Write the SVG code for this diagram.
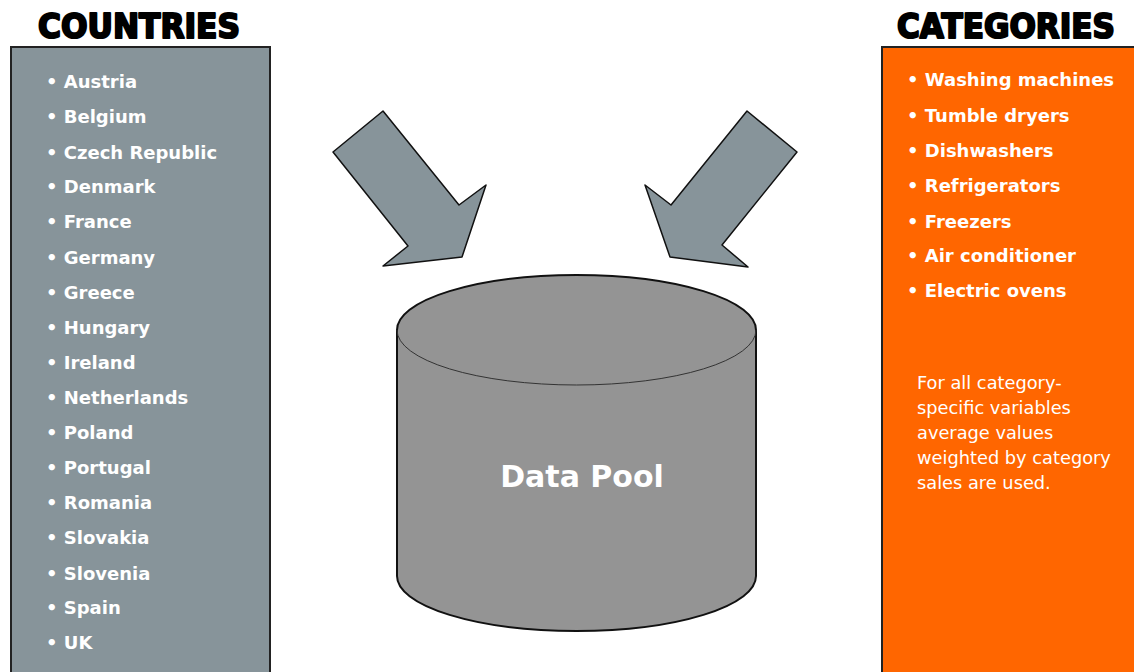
<svg xmlns="http://www.w3.org/2000/svg" width="1134" height="672" viewBox="0 0 1134 672">
<style>
.title{font-family:"DejaVu Sans",sans-serif;font-weight:bold;font-size:34px;fill:#000;stroke:#000;stroke-width:2.2;stroke-linejoin:round;text-anchor:middle}
.item{font-family:"DejaVu Sans",sans-serif;font-weight:bold;font-size:18px;fill:#fff}
.para{font-family:"DejaVu Sans",sans-serif;font-size:17.8px;fill:#fff}
.box{stroke:#222;stroke-width:2}
.arrow{fill:#87949A;stroke:#111;stroke-width:1.5;stroke-linejoin:round}
</style>
<rect width="1134" height="672" fill="#fff"/>
<g id="countries">
<text class="title" x="139" y="38" textLength="202" lengthAdjust="spacingAndGlyphs">COUNTRIES</text>
<rect class="box" x="11" y="47" width="259" height="630" fill="#87949A"/>
<g class="item">
<text x="46" y="88">• Austria</text>
<text x="46" y="123">• Belgium</text>
<text x="46" y="159">• Czech Republic</text>
<text x="46" y="193">• Denmark</text>
<text x="46" y="228">• France</text>
<text x="46" y="264">• Germany</text>
<text x="46" y="299">• Greece</text>
<text x="46" y="334">• Hungary</text>
<text x="46" y="369">• Ireland</text>
<text x="46" y="404">• Netherlands</text>
<text x="46" y="439">• Poland</text>
<text x="46" y="474">• Portugal</text>
<text x="46" y="509">• Romania</text>
<text x="46" y="544">• Slovakia</text>
<text x="46" y="580">• Slovenia</text>
<text x="46" y="614">• Spain</text>
<text x="46" y="649">• UK</text>
</g>
</g>
<g id="categories">
<text class="title" x="1006" y="38" textLength="218" lengthAdjust="spacingAndGlyphs">CATEGORIES</text>
<rect class="box" x="882" y="47" width="260" height="630" fill="#FF6600"/>
<g class="item">
<text x="907" y="86">• Washing machines</text>
<text x="907" y="122">• Tumble dryers</text>
<text x="907" y="157">• Dishwashers</text>
<text x="907" y="192">• Refrigerators</text>
<text x="907" y="228">• Freezers</text>
<text x="907" y="262">• Air conditioner</text>
<text x="907" y="297">• Electric ovens</text>
</g>
<g class="para">
<text x="917" y="389">For all category-</text>
<text x="917" y="414">specific variables</text>
<text x="917" y="439">average values</text>
<text x="917" y="464">weighted by category</text>
<text x="917" y="489">sales are used.</text>
</g>
</g>
<g id="connectors">
<polygon class="arrow" points="333,152 383,111 459,205 486,185 462,257 383,266 408,246"/>
<polygon class="arrow" points="747,111 797,152 722,245 748,267 670,257 645,185 671,205"/>
</g>
<g id="datapool">
<path d="M397,330 L397,576 A179.5,55 0 0 0 756,576 L756,330 A179.5,55 0 0 0 397,330 Z" fill="#949494" stroke="#111" stroke-width="2"/>
<path d="M397,330 A179.5,55 0 0 0 756,330" fill="none" stroke="#333" stroke-width="1"/>
<text x="582" y="487" text-anchor="middle" font-family="DejaVu Sans, sans-serif" font-weight="bold" font-size="30" fill="#fff">Data Pool</text>
</g>
</svg>
